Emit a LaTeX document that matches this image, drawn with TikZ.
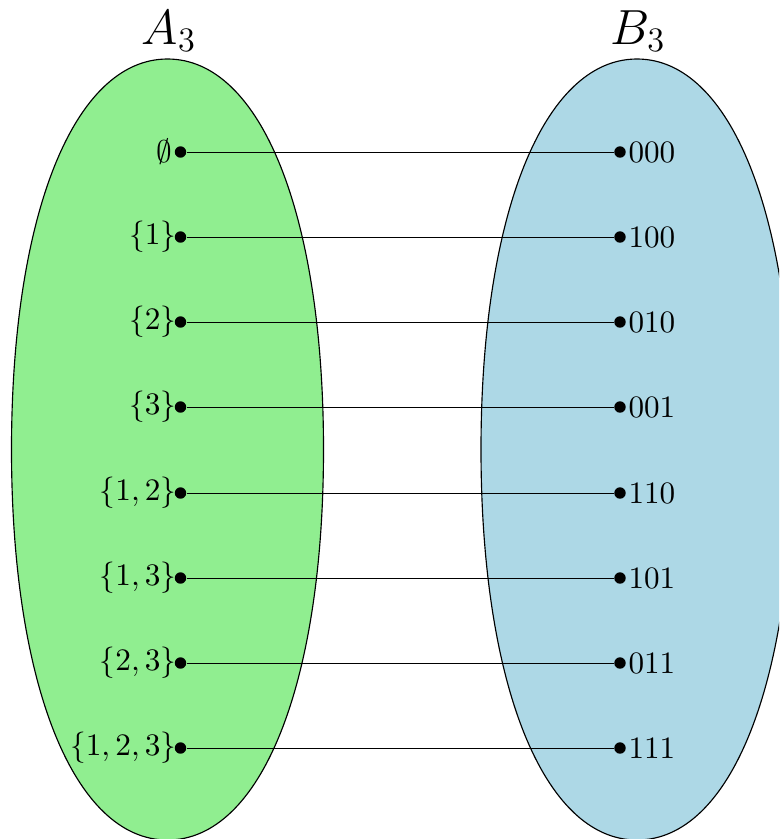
\documentclass[tikz,border=0pt]{standalone}
\definecolor{setgreen}{RGB}{144,238,144}
\definecolor{setblue}{RGB}{173,216,230}
\begin{document}
\begin{tikzpicture}[x=0.35pt,y=-0.35pt,
  setline/.style={draw=black,line width=0.4pt},
  dotnode/.style={circle,fill=black,inner sep=0pt,minimum size=4pt},
  leftlab/.style={anchor=east,inner sep=0pt,xshift=0.9pt,font=\fontsize{10.9}{13}\selectfont},
  rightlab/.style={anchor=west,inner sep=0.6pt,font=\fontsize{10.9}{13}\selectfont},
  conn/.style={line width=0.35pt},
  title/.style={font=\LARGE}]
\useasboundingbox (0,0) rectangle (779,839);
\clip (0,0) rectangle (779,839);
% rounded oval sets: cx, cy, rx=156, ry=390.5, k=0.6
\def\kx{93.6}\def\ky{234.3}
\foreach \cx/\col in {167.5/setgreen,637/setblue}{
  \path[setline,fill=\col] (\cx,59)
    .. controls ({\cx+\kx},59) and ({\cx+156},{449.5-\ky}) .. ({\cx+156},449.5)
    .. controls ({\cx+156},{449.5+\ky}) and ({\cx+\kx},840) .. (\cx,840)
    .. controls ({\cx-\kx},840) and ({\cx-156},{449.5+\ky}) .. ({\cx-156},449.5)
    .. controls ({\cx-156},{449.5-\ky}) and ({\cx-\kx},59) .. (\cx,59) -- cycle;
}
\node[title] (tA) at (169,31) {$A_3$};
\node[title] (tB) at (638,31) {$B_3$};
\foreach \i/\y/\la/\lb in {1/152/{\emptyset\mkern2.5mu}/000,2/237/{\{1\}}/100,3/322/{\{2\}}/010,4/407/{\{3\}}/001,5/493/{\{1,2\}}/110,6/578/{\{1,3\}}/101,7/663/{\{2,3\}}/011,8/748/{\{1,2,3\}}/111}{
  \node[dotnode] (a\i) at (180.5,\y) {};
  \node[dotnode] (b\i) at (620,\y) {};
  \node[leftlab] (la\i) at (a\i.west) {$\la$};
  \node[rightlab] (lb\i) at (b\i.east) {\lb};
  \draw[conn] (a\i) -- (b\i);
}
\end{tikzpicture}
\end{document}
